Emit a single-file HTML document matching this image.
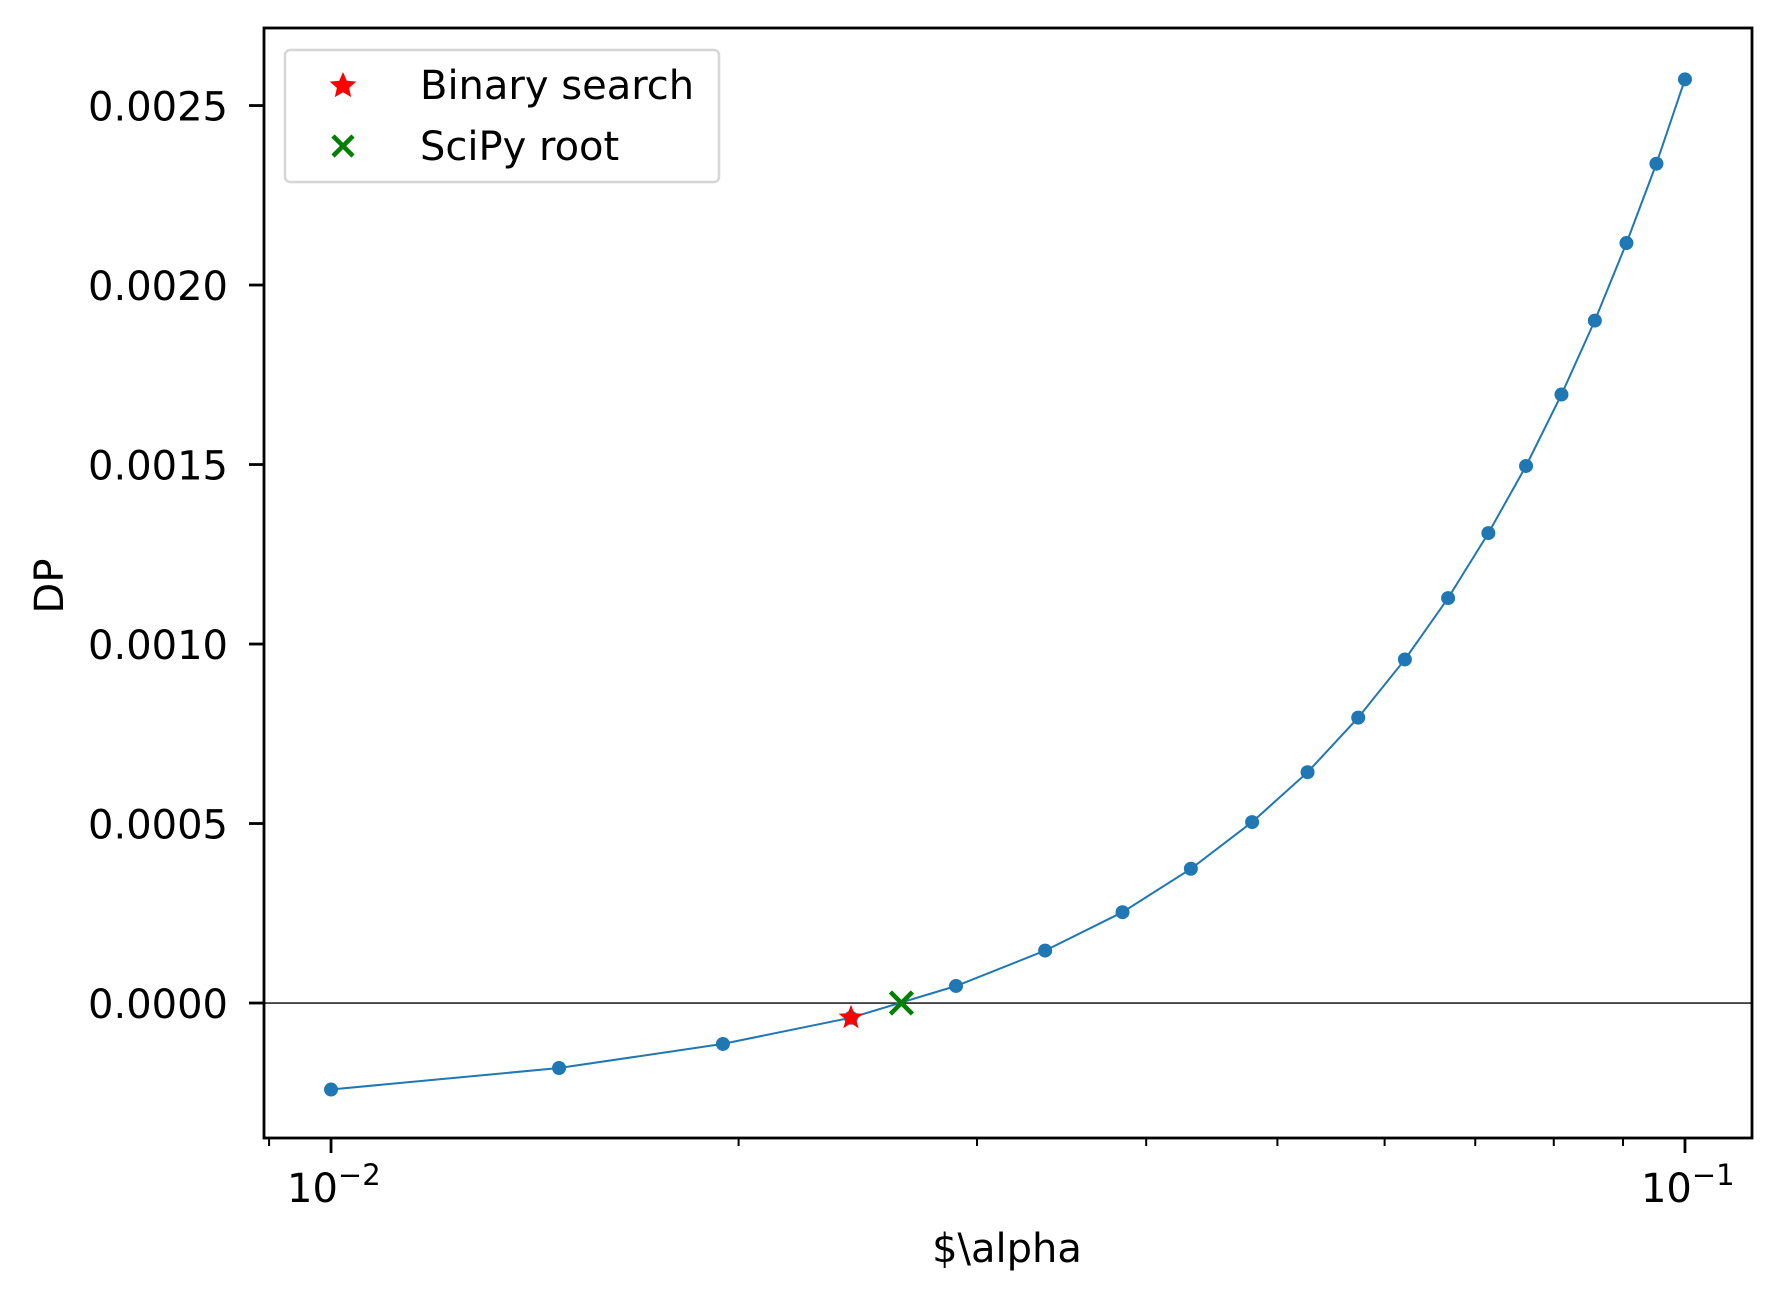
<!DOCTYPE html>
<html><head><meta charset="utf-8"><style>
html,body{margin:0;padding:0;background:#fff}
svg text{font-family:"DejaVu Sans","Liberation Sans",sans-serif;fill:#000}
</style></head><body>
<svg id="chart" width="1781" height="1297" viewBox="0 0 1781 1297" xmlns="http://www.w3.org/2000/svg">
<rect width="1781" height="1297" fill="#fff"/>
<g id="plot"></g>
</svg>
<script>
const alphaValues=[0.01,0.014737,0.019474,0.024211,0.028947,0.033684,0.038421,0.043158,0.047895,0.052632,0.057368,0.062105,0.066842,0.071579,0.076316,0.081053,0.085789,0.090526,0.095263,0.1];
const dpValues=[-0.000241,-0.000181,-0.000114,-0.000041,0.0000475,0.000146,0.000253,0.000374,0.000504,0.000643,0.000795,0.000957,0.001128,0.001309,0.001496,0.001695,0.001901,0.002117,0.002338,0.002573];
const binarySearch=[0.024211,-0.000041];
const scipyRoot=[0.02638,0];
const yTicks=[0,0.0005,0.001,0.0015,0.002,0.0025];
const yTickLabels=["0.0000","0.0005","0.0010","0.0015","0.0020","0.0025"];
const xMajorTicks=[0.01,0.1];
const xMajorLabels=["-2","-1"];
const xMinorTicks=[0.009,0.02,0.03,0.04,0.05,0.06,0.07,0.08,0.09];

const L=264,R=1752,T=28,B=1138;
const xMin=-2.0495,xMax=-0.9505,yMin=-0.000376,yMax=0.002716;
const sx=v=>L+(Math.log10(v)-xMin)/(xMax-xMin)*(R-L);
const sy=v=>B-(v-yMin)/(yMax-yMin)*(B-T);
const NS="http://www.w3.org/2000/svg";
const g=document.getElementById('plot');
function mk(tag,attrs,parent){const e=document.createElementNS(NS,tag);for(const k in attrs)e.setAttribute(k,attrs[k]);(parent||g).appendChild(e);return e;}

let zl=mk('line',{x1:L,x2:R,y1:sy(0),y2:sy(0),stroke:'#000','stroke-width':1.4});



let pts=alphaValues.map((a,i)=>sx(a).toFixed(1)+','+sy(dpValues[i]).toFixed(1)).join(' ');
let pl=mk('polyline',{points:pts,fill:'none',stroke:'#1f77b4','stroke-width':2});


alphaValues.forEach((a,i)=>{
  let c=mk('circle',{cx:sx(a),cy:sy(dpValues[i]),r:7,fill:'#1f77b4'});
  
  
});

function starPath(cx,cy,r){let s='';for(let k=0;k<10;k++){const rr=k%2?r*0.42:r;const a=-Math.PI/2+k*Math.PI/5;s+=(k?'L':'M')+(cx+rr*Math.cos(a)).toFixed(1)+','+(cy+rr*Math.sin(a)).toFixed(1);}return s+'Z';}
function xPath(cx,cy,r){return `M${cx-r},${cy-r}L${cx+r},${cy+r}M${cx-r},${cy+r}L${cx+r},${cy-r}`;}

let st=mk('path',{d:starPath(sx(binarySearch[0]),sy(binarySearch[1]),13),fill:'red'});


let xm=mk('path',{d:xPath(sx(scipyRoot[0]),sy(scipyRoot[1]),11),stroke:'green','stroke-width':4.5,fill:'none'});



let fr=mk('rect',{x:L,y:T,width:R-L,height:B-T,fill:'none',stroke:'#000','stroke-width':2.8});



yTicks.forEach((v,i)=>{
  const y=sy(v);
  let t=mk('line',{x1:L-15,x2:L,y1:y,y2:y,stroke:'#000','stroke-width':2.8});
  
  
  let tx=mk('text',{x:L-36,y:y+15,'text-anchor':'end','font-size':40});
  tx.textContent=yTickLabels[i];
  
  
});
xMinorTicks.forEach(v=>{
  let t=mk('line',{x1:sx(v),x2:sx(v),y1:B,y2:B+8,stroke:'#000','stroke-width':2});
  
  
});
xMajorTicks.forEach((v,i)=>{
  const x=sx(v);
  let t=mk('line',{x1:x,x2:x,y1:B,y2:B+15,stroke:'#000','stroke-width':2.8});
  
  
  let tx=mk('text',{x:x-44,y:1202,'text-anchor':'start','font-size':40});
  tx.textContent='10';
  let sp=mk('tspan',{dy:-17,'font-size':29},tx);
  sp.textContent='\u2212'+xMajorLabels[i].slice(1);
  
  
});
</script>
<svg style="position:absolute;left:0;top:0" width="1781" height="1297">
<text x="1007" y="1262" text-anchor="middle" font-size="40">$\alpha</text>
<text x="63" y="586" text-anchor="middle" font-size="40" transform="rotate(-90 63 586)">DP</text>
<g>
<rect x="285" y="50" width="434" height="132" rx="5" fill="#fff" fill-opacity="0.8" stroke="#d6d6d6" stroke-width="2.5"/>
<path d="M343.0,72.0L346.8,80.7L356.3,81.6L349.1,87.9L351.2,97.1L343.0,92.3L334.8,97.1L336.9,87.9L329.7,81.6L339.2,80.7Z" fill="red"/>
<text x="420" y="99" font-size="40">Binary search</text>
<path d="M333,136L353,156M333,156L353,136" stroke="green" stroke-width="4.5"/>
<text x="420" y="160" font-size="40">SciPy root</text>
</g>
</svg>
</body></html>
